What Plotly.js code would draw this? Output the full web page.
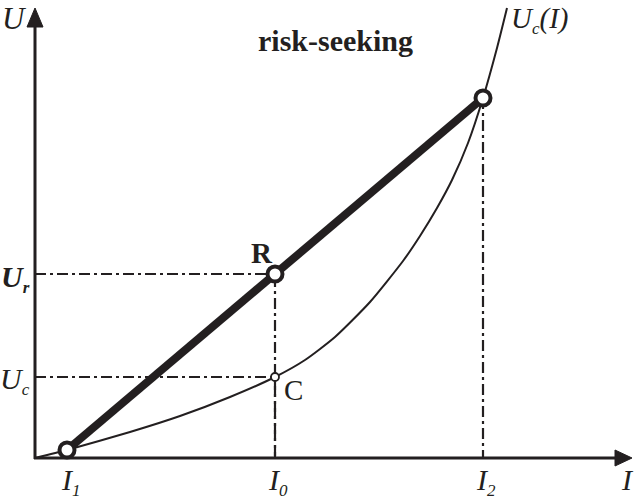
<!DOCTYPE html>
<html>
<head>
<meta charset="utf-8">
<script src="https://cdn.plot.ly/plotly-3.0.1.min.js"></script>
<style>html,body{margin:0;padding:0;background:#fff;}#chart{width:637px;height:497px;}</style>
</head>
<body>
<div id="chart"></div>
<script>
// ---- data (income I, utility U) ----
const curveI = [0, 32, 95, 145, 195, 240, 270, 300, 335, 368, 385, 402, 417, 433, 448, 462, 472];
const curveU = [0, 8, 26, 42, 61, 81, 98, 121, 156, 197, 222, 250, 278, 315, 360, 410, 450];
const I1 = 32, I0 = 240, I2 = 448;
const U1 = 8, U2 = 360;
const Ur = 184, Uc = 81;
const incomeSubs = ['1', '0', '2'];
const titleText = '<b>risk-seeking</b>';

const ink = '#231f20';
const serif = 'Liberation Serif, Times New Roman, serif';
const dash = '11px,4px,3px,4px';

function sub(t) { return '<sub><span style="font-size:17px">' + t + '</span></sub>'; }

const traces = [
  // guide lines
  {x: [0, I0, I0], y: [Ur, Ur, 0], mode: 'lines', line: {color: ink, width: 2.2, dash: dash}, hoverinfo: 'skip'},
  {x: [0, I0, I0], y: [Uc, Uc, 0], mode: 'lines', line: {color: ink, width: 2.2, dash: dash}, hoverinfo: 'skip'},
  {x: [I2, I2], y: [U2, 0], mode: 'lines', line: {color: ink, width: 2.2, dash: dash}, hoverinfo: 'skip'},
  // utility curve
  {x: curveI, y: curveU, mode: 'lines', line: {color: ink, width: 2, shape: 'spline', smoothing: 0.6}, hoverinfo: 'skip'},
  // chord
  {x: [I1, I2], y: [U1, U2], mode: 'lines', line: {color: ink, width: 8}, hoverinfo: 'skip'},
  // big points
  {x: [I1, I0, I2], y: [U1, Ur, U2], mode: 'markers',
   marker: {size: 15, color: '#fff', line: {color: ink, width: 4}}, hoverinfo: 'skip'},
  // C point
  {x: [I0], y: [Uc], mode: 'markers',
   marker: {size: 8, color: '#fff', line: {color: ink, width: 1.8}}, hoverinfo: 'skip'}
];

function ann(x, y, text, size, extra) {
  return Object.assign({x: x, y: y, xref: 'x', yref: 'y', text: text, showarrow: false,
    font: {family: serif, size: size, color: ink}}, extra || {});
}

const annotations = [
  ann(-21, 440, '<i>U</i>', 31),
  ann(300, 418, titleText, 30),
  ann(474, 438, '<i>U' + sub('c') + '(I)</i>', 29, {xanchor: 'left'}),
  ann(-34, 180, '<b><i>U' + sub('r') + '</i></b>', 30, {xanchor: 'left', xshift: -2}),
  ann(-34, 78, '<i>U' + sub('c') + '</i>', 30, {xanchor: 'left', xshift: -3}),
  ann(227, 205, '<b>R</b>', 29),
  ann(258, 68, 'C', 29),
  ann(592, -21, '<i>I</i>', 30),
  ann(I1 - 8, -23, '<i>I' + sub(incomeSubs[0]) + '</i>', 30, {xanchor: 'left'}),
  ann(I0 - 9, -23, '<i>I' + sub(incomeSubs[1]) + '</i>', 30, {xanchor: 'left'}),
  ann(I2 - 9, -23, '<i>I' + sub(incomeSubs[2]) + '</i>', 30, {xanchor: 'left'})
];

const shapes = [
  {type: 'line', xref: 'x', yref: 'y', x0: -1, y0: 0, x1: 582, y1: 0, line: {color: ink, width: 3}},
  {type: 'line', xref: 'x', yref: 'y', x0: 0, y0: -1, x1: 0, y1: 432, line: {color: ink, width: 3}},
  {type: 'path', xref: 'x', yref: 'y', path: 'M 580 -8 L 597 0 L 580 8 Z', fillcolor: ink, line: {color: ink, width: 1}},
  {type: 'path', xref: 'x', yref: 'y', path: 'M -8 431 L 0 450 L 8 431 Z', fillcolor: ink, line: {color: ink, width: 1}}
];

const layout = {
  width: 637, height: 497,
  margin: {l: 0, r: 0, t: 0, b: 0},
  paper_bgcolor: '#fff', plot_bgcolor: '#fff',
  showlegend: false,
  xaxis: {range: [-35, 602], visible: false, fixedrange: true},
  yaxis: {range: [-39, 458], visible: false, fixedrange: true},
  annotations: annotations,
  shapes: shapes
};

Plotly.newPlot('chart', traces, layout, {displayModeBar: false, staticPlot: true});
</script>
</body>
</html>
